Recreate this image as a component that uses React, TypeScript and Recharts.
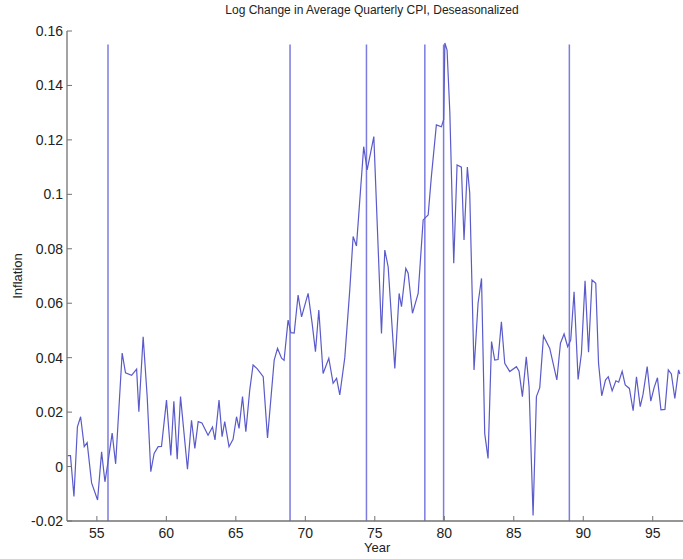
import { LineChart, Line, XAxis, YAxis, ReferenceLine } from "recharts"

// quarterly inflation (year, log change)
const years = [
  52.9, 53.1, 53.35, 53.6, 53.83, 54.09, 54.3, 54.62, 55.05, 55.34, 55.58, 55.81,
  56.1, 56.35, 56.82, 57.06, 57.5, 57.86, 58.02, 58.33, 58.62, 58.88, 59.12, 59.41,
  59.65, 60.01, 60.32, 60.54, 60.78, 61.02, 61.52, 61.81, 62.05, 62.29, 62.56, 63.0,
  63.32, 63.5, 63.79, 64.01, 64.2, 64.51, 64.8, 65.05, 65.23, 65.48, 65.72, 66.0,
  66.24, 66.53, 66.97, 67.28, 67.76, 68.0, 68.29, 68.47, 68.76, 68.96, 69.2, 69.48,
  69.73, 70.2, 70.49, 70.73, 70.97, 71.28, 71.69, 72.0, 72.25, 72.48, 72.84, 73.2,
  73.44, 73.68, 74.2, 74.45, 74.93, 75.48, 75.72, 75.96, 76.44, 76.75, 76.92, 77.23,
  77.4, 77.71, 78.12, 78.48, 78.84, 79.07, 79.43, 79.79, 79.96, 80.04, 80.2, 80.4,
  80.68, 80.92, 81.23, 81.42, 81.66, 81.83, 82.14, 82.43, 82.68, 82.91, 83.15, 83.4,
  83.63, 83.87, 84.11, 84.35, 84.71, 85.19, 85.38, 85.62, 85.9, 86.1, 86.39, 86.63,
  86.87, 87.14, 87.59, 88.1, 88.36, 88.62, 88.88, 89.1, 89.34, 89.63, 89.87, 90.13,
  90.38, 90.63, 90.9, 91.1, 91.33, 91.6, 91.8, 92.08, 92.35, 92.55, 92.8, 93.02,
  93.32, 93.59, 93.83, 94.1, 94.3, 94.6, 94.86, 95.1, 95.34, 95.59, 95.88, 96.12,
  96.34, 96.59, 96.86, 96.95,
]
const inflation = [
  0.004, 0.004, -0.011, 0.0146, 0.0183, 0.0073, 0.0088, -0.006, -0.0123, 0.0054, -0.0056, 0.002,
  0.0123, 0.001, 0.0417, 0.0344, 0.0335, 0.0358, 0.0201, 0.0477, 0.0257, -0.0019, 0.0048, 0.0073,
  0.0074, 0.0244, 0.0041, 0.024, 0.0027, 0.0257, -0.001, 0.017, 0.0067, 0.0165, 0.016, 0.0115,
  0.0145, 0.0098, 0.0244, 0.011, 0.0165, 0.0073, 0.01, 0.0183, 0.014, 0.0257, 0.0128, 0.0281,
  0.0373, 0.036, 0.033, 0.0105, 0.0391, 0.0434, 0.0398, 0.039, 0.0538, 0.0492, 0.049, 0.063,
  0.055, 0.0636, 0.0526, 0.0422, 0.0575, 0.0342, 0.0398, 0.0306, 0.0324, 0.0263, 0.04, 0.065,
  0.0845, 0.081, 0.1175, 0.109, 0.1212, 0.0489, 0.0795, 0.0734, 0.036, 0.0636, 0.0587, 0.0728,
  0.071, 0.0563, 0.0636, 0.0906, 0.0924, 0.1065, 0.1255, 0.1248, 0.1275, 0.1556, 0.153, 0.13,
  0.0747, 0.1108, 0.11, 0.0832, 0.11, 0.1005, 0.0355, 0.06, 0.0691, 0.0121, 0.003, 0.0459,
  0.0391, 0.0393, 0.0532, 0.0379, 0.0349, 0.0367, 0.035, 0.0257, 0.0403, 0.0293, -0.018, 0.0257,
  0.029, 0.048, 0.0434, 0.0318, 0.0453, 0.0487, 0.044, 0.0465, 0.0642, 0.032, 0.0416, 0.0682,
  0.042, 0.0685, 0.0673, 0.038, 0.026, 0.0318, 0.033, 0.0278, 0.0315, 0.031, 0.035, 0.03,
  0.0287, 0.0205, 0.033, 0.022, 0.0265, 0.0367, 0.024, 0.029, 0.0326, 0.0208, 0.021, 0.0355,
  0.034, 0.025, 0.0355, 0.034,
]

// vertical markers
const markerYears = [55.8, 68.9, 74.4, 78.6, 79.95, 89.0]
const markerTop = 0.155

const xTicks = [55, 60, 65, 70, 75, 80, 85, 90, 95]
const yTicks = [-0.02, 0, 0.02, 0.04, 0.06, 0.08, 0.1, 0.12, 0.14, 0.16]

const data = years.map((t, i) => ({ t, v: inflation[i] }))

const FONT = "'Liberation Sans', Arial, sans-serif"
const AXIS = "#727272"
const LINE = "#5a5acb"
const MARK = "#7b7be0"

const fmtY = (v: number) => String(Number(v.toFixed(2)))

function BottomTick(p: any) {
  return (
    <g>
      <line x1={p.x} x2={p.x} y1={p.y} y2={p.y - 5} stroke={AXIS} />
      <text x={p.x} y={p.y + 17} textAnchor="middle" fontSize={14} fontFamily={FONT} fill="#222">
        {p.payload.value}
      </text>
    </g>
  )
}

function TopTick(p: any) {
  return <line x1={p.x} x2={p.x} y1={p.y} y2={p.y + 5} stroke={AXIS} />
}

function LeftTick(p: any) {
  return (
    <g>
      <line x1={p.x} x2={p.x + 5} y1={p.y} y2={p.y} stroke={AXIS} />
      <text x={p.x - 4} y={p.y + 5} textAnchor="end" fontSize={14} fontFamily={FONT} fill="#222">
        {fmtY(p.payload.value)}
      </text>
    </g>
  )
}

export default function App() {
  return (
    <div style={{ position: "absolute", left: 0, top: 0, width: 683, height: 559, overflow: "hidden", background: "#fff" }}>
      <div style={{ position: "absolute", left: 0, top: 3, width: 744, textAlign: "center", fontFamily: FONT, fontSize: 12, color: "#222" }}>
        Log Change in Average Quarterly CPI, Deseasonalized
      </div>
      <div style={{ position: "absolute", left: 364, top: 540, fontFamily: FONT, fontSize: 13, color: "#222" }}>Year</div>
      <div
        style={{
          position: "absolute",
          left: 17,
          top: 276,
          transform: "translate(-50%, -50%) rotate(-90deg)",
          fontFamily: FONT,
          fontSize: 13,
          color: "#222",
        }}
      >
        Inflation
      </div>
      <div style={{ position: "absolute", left: 0, top: 0 }}>
        <LineChart width={700} height={559} data={data} margin={{ top: 31, right: 16, left: 0, bottom: 8 }}>
          <XAxis
            dataKey="t"
            type="number"
            domain={[52.85, 97.25]}
            allowDataOverflow
            ticks={xTicks}
            interval={0}
            height={30}
            tickSize={0}
            tickMargin={0}
            tickLine={false}
            axisLine={{ stroke: AXIS, strokeWidth: 1.3 }}
            tick={<BottomTick />}
          />
          <XAxis
            xAxisId="top"
            orientation="top"
            dataKey="t"
            type="number"
            domain={[52.85, 97.25]}
            allowDataOverflow
            ticks={xTicks}
            interval={0}
            height={0}
            tickSize={0}
            tickMargin={0}
            tickLine={false}
            axisLine={{ stroke: AXIS, strokeWidth: 1.3 }}
            tick={<TopTick />}
          />
          <YAxis
            type="number"
            domain={[-0.02, 0.16]}
            allowDataOverflow
            ticks={yTicks}
            interval={0}
            width={67}
            tickSize={0}
            tickMargin={0}
            tickLine={false}
            axisLine={{ stroke: AXIS, strokeWidth: 1.3 }}
            tick={<LeftTick />}
          />
          {markerYears.map((x) => (
            <ReferenceLine
              key={x}
              segment={[
                { x, y: -0.02 },
                { x, y: markerTop },
              ]}
              stroke={MARK}
              strokeWidth={1.5}
            />
          ))}
          <Line type="linear" dataKey="v" stroke={LINE} strokeWidth={1.2} dot={false} isAnimationActive={false} />
        </LineChart>
      </div>
    </div>
  )
}
